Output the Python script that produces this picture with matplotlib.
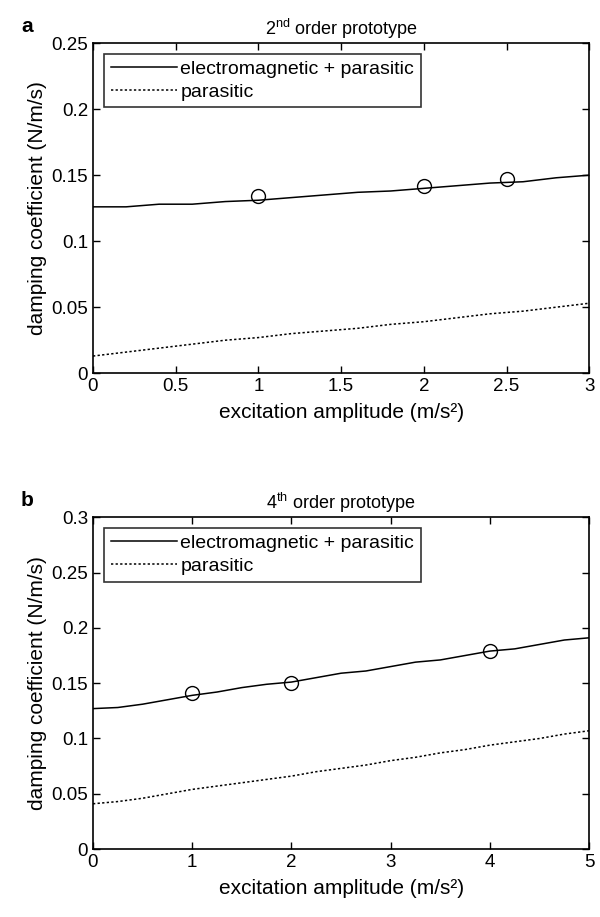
import matplotlib
matplotlib.use('Agg')
from matplotlib import pyplot as plt
from matplotlib.ticker import FuncFormatter

plt.rcParams['font.family'] = ['Liberation Sans', 'DejaVu Sans']
plt.rcParams['mathtext.fontset'] = 'custom'
plt.rcParams['mathtext.rm'] = 'Liberation Sans'
plt.rcParams['mathtext.it'] = 'Liberation Sans:italic'

# 2nd order prototype
amp_2 = [0, 0.2, 0.4, 0.6, 0.8, 1.0, 1.2, 1.4, 1.6, 1.8, 2.0, 2.2, 2.4, 2.6, 2.8, 3.0]
total_2 = [0.126, 0.126, 0.128, 0.128, 0.130, 0.131, 0.133, 0.135, 0.137, 0.138, 0.140,
           0.142, 0.144, 0.145, 0.148, 0.150]
parasitic_2 = [0.013, 0.016, 0.019, 0.022, 0.025, 0.027, 0.030, 0.032, 0.034, 0.037,
               0.039, 0.042, 0.045, 0.047, 0.050, 0.053]
meas_amp_2 = [1, 2, 2.5]
meas_2 = [0.134, 0.142, 0.147]

# 4th order prototype
amp_4 = [0, 0.25, 0.5, 0.75, 1.0, 1.25, 1.5, 1.75, 2.0, 2.25, 2.5, 2.75, 3.0, 3.25, 3.5,
         3.75, 4.0, 4.25, 4.5, 4.75, 5.0]
total_4 = [0.127, 0.128, 0.131, 0.135, 0.139, 0.142, 0.146, 0.149, 0.151, 0.155, 0.159,
           0.161, 0.165, 0.169, 0.171, 0.175, 0.179, 0.181, 0.185, 0.189, 0.191]
parasitic_4 = [0.041, 0.043, 0.046, 0.050, 0.054, 0.057, 0.060, 0.063, 0.066, 0.070,
               0.073, 0.076, 0.080, 0.083, 0.087, 0.090, 0.094, 0.097, 0.100, 0.104, 0.107]
meas_amp_4 = [1, 2, 4]
meas_4 = [0.141, 0.150, 0.179]

panels = [
    ('a', r'2$^{\rm nd}$ order prototype', amp_2, total_2, parasitic_2, meas_amp_2, meas_2,
     3, 0.25, [0, 0.5, 1, 1.5, 2, 2.5, 3], [0, 0.05, 0.1, 0.15, 0.2, 0.25]),
    ('b', r'4$^{\rm th}$ order prototype', amp_4, total_4, parasitic_4, meas_amp_4, meas_4,
     5, 0.3, [0, 1, 2, 3, 4, 5], [0, 0.05, 0.1, 0.15, 0.2, 0.25, 0.3]),
]

fig = plt.figure(figsize=(6, 9.17), dpi=100)
boxes = [[0.155, 0.593, 0.827, 0.360], [0.155, 0.074, 0.827, 0.362]]
fmt = FuncFormatter(lambda v, p: '%g' % v)

for box, (tag, title, x, tot, par, mx, my, xmax, ymax, xt, yt) in zip(boxes, panels):
    ax = fig.add_axes(box)
    ax.plot(x, tot, color='black', linewidth=1.1, label='electromagnetic + parasitic')
    ax.plot(x, par, color='black', linewidth=1.1, linestyle=(0, (1.5, 1.5)), label='parasitic')
    ax.plot(mx, my, linestyle='none', marker='o', markersize=10, markerfacecolor='none',
            markeredgecolor='black', markeredgewidth=1.0)
    ax.set_xlim(0, xmax)
    ax.set_ylim(0, ymax)
    ax.set_xticks(xt)
    ax.set_yticks(yt)
    ax.xaxis.set_major_formatter(fmt)
    ax.yaxis.set_major_formatter(fmt)
    ax.tick_params(direction='in', top=True, right=True, labelsize=13.5, length=5, width=1)
    for s in ax.spines.values():
        s.set_linewidth(1.2)
    ax.set_xlabel('excitation amplitude (m/s²)', fontsize=15, labelpad=6)
    ax.set_ylabel('damping coefficient (N/m/s)', fontsize=15, labelpad=3)
    ax.set_title(title, fontsize=13, pad=6)
    leg = ax.legend(loc='upper left', fontsize=14, frameon=True, fancybox=False,
                    edgecolor='black', handlelength=3.4, handletextpad=0.2,
                    borderaxespad=0.55, labelspacing=0.25, borderpad=0.35)
    leg.get_frame().set_linewidth(1.2)
    fig.text(0.035, box[1] + box[3] + 0.012, tag, fontsize=15, fontweight='bold')

fig.savefig('out.png', dpi=100)
